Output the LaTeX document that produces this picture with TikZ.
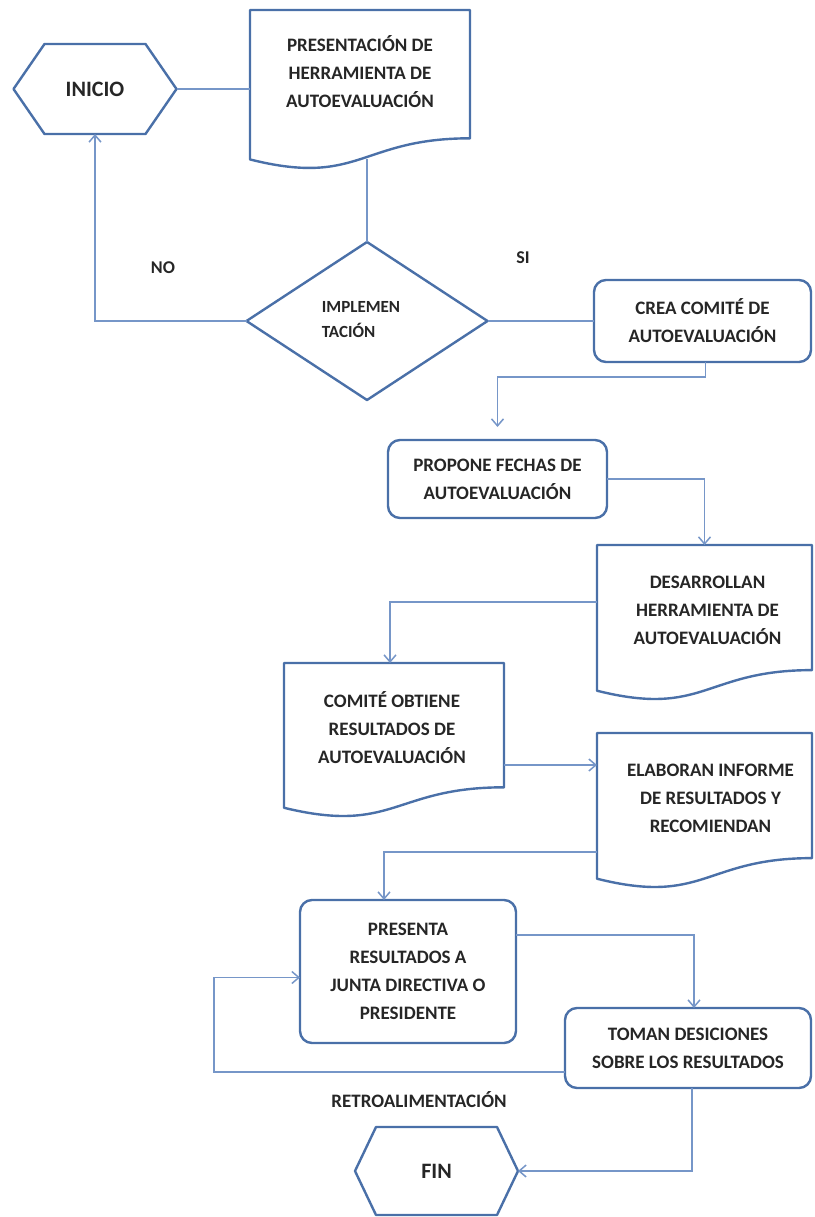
\documentclass[tikz,border=0pt]{standalone}
\usepackage{fontspec}
\setmainfont{Carlito}
\usetikzlibrary{calc,arrows.meta}
\definecolor{shapeblue}{RGB}{74,112,168}
\definecolor{lineblue}{RGB}{118,150,200}
\definecolor{txtc}{RGB}{38,38,38}
\tikzset{
  frame/.style={draw=none, inner sep=0pt, outer sep=0pt},
  shapeline/.style={draw=shapeblue, line width=2.4pt, line join=round, fill=white},
  rbox/.style={shapeline, rounded corners=12pt, inner sep=0pt, outer sep=0pt, align=center,
    font=\bfseries\fontsize{19}{28}\selectfont, text=txtc},
  conn/.style={draw=lineblue, line width=1.5pt},
  arr/.style={-{Straight Barb[length=7pt,width=12pt,line width=1.5pt]}},
  txt/.style={align=center, font=\bfseries\fontsize{19}{28}\selectfont, text=txtc, inner sep=0pt},
  bigtxt/.style={txt, font=\bfseries\fontsize{22}{26}\selectfont},
}
\newcommand\docpath[1]{%
  \path[shapeline] (#1.north west) -- (#1.north east) -- ($(#1.north east)!0.802!(#1.south east)$)
    .. controls ($(#1.north)!0.802!(#1.south)$) and ($(#1.north)!1.107!(#1.south)$) ..
    ($(#1.north west)!0.934!(#1.south west)$) -- cycle;}
\newcommand\hexpath[2]{%
  \path[shapeline] (#1.west) -- ([xshift=#2]#1.north west) -- ([xshift=-#2]#1.north east) -- (#1.east)
    -- ([xshift=-#2]#1.south east) -- ([xshift=#2]#1.south west) -- cycle;}
\begin{document}
\begin{tikzpicture}[x=1pt,y=-1pt]
\useasboundingbox (0,0) rectangle (814,1217);
% frames
\node[frame, minimum width=163pt, minimum height=90pt] (inicio) at (95,89) {};
\node[frame, minimum width=220pt, minimum height=160pt] (d1) at (360,90) {};
\node[frame, minimum width=241pt, minimum height=158pt] (dia) at (367,321) {};
\node[frame, minimum width=215pt, minimum height=156pt] (des) at (704.5,623) {};
\node[frame, minimum width=220pt, minimum height=155pt] (comite) at (394,740.5) {};
\node[frame, minimum width=215pt, minimum height=156pt] (elab) at (704.5,811) {};
\node[frame, minimum width=163pt, minimum height=88pt] (fin) at (436.5,1171) {};
% outlines
\hexpath{inicio}{31pt}
\hexpath{fin}{21pt}
\docpath{d1}
\docpath{des}
\docpath{comite}
\docpath{elab}
\path[shapeline] (dia.north) -- (dia.east) -- (dia.south) -- (dia.west) -- cycle;
% rounded boxes
\node[rbox, minimum width=217pt, minimum height=82pt] (crea) at (702.5,321) {CREA COMITÉ DE\\AUTOEVALUACIÓN};
\node[rbox, minimum width=219pt, minimum height=78pt] (propone) at (497.5,479) {PROPONE FECHAS DE\\AUTOEVALUACIÓN};
\node[rbox, minimum width=216pt, minimum height=143pt] (presenta) at (408,971.5) {PRESENTA\\RESULTADOS A\\JUNTA DIRECTIVA O\\PRESIDENTE};
\node[rbox, minimum width=246pt, minimum height=80pt] (toman) at (688,1048) {TOMAN DESICIONES\\SOBRE LOS RESULTADOS};
% texts in shapes
\node[bigtxt] (iniciot) at (inicio) {INICIO};
\node[bigtxt] (fint) at (fin) {FIN};
\node[txt] (d1t) at ($(d1)+(0,-18)$) {PRESENTACIÓN DE\\HERRAMIENTA DE\\AUTOEVALUACIÓN};
\node[txt, align=left, font=\bfseries\fontsize{17}{25}\selectfont] (diat) at ($(dia)+(-6,-1)$) {IMPLEMEN\\TACIÓN};
\node[txt] (dest) at ($(des)+(3,-13)$) {DESARROLLAN\\HERRAMIENTA DE\\AUTOEVALUACIÓN};
\node[txt] (comitet) at ($(comite)+(-2,-13)$) {COMITÉ OBTIENE\\RESULTADOS DE\\AUTOEVALUACIÓN};
\node[txt] (elabt) at ($(elab)+(6,-13)$) {ELABORAN INFORME\\DE RESULTADOS Y\\RECOMIENDAN};
% labels
\node[txt, font=\bfseries\fontsize{18}{22}\selectfont] (nolab) at (163,268) {NO};
\node[txt, font=\bfseries\fontsize{18}{22}\selectfont] (silab) at (523,258) {SI};
\node[txt] (retro) at (419,1100) {RETROALIMENTACIÓN};
% connectors
\coordinate (d1b) at ($(d1.north)!0.93!(d1.south)$);
\draw[conn] (inicio.east) -- (inicio.east -| d1.west);
\draw[conn] (d1b -| dia.north) -- (dia.north);
\draw[conn,arr] (dia.west) -| (inicio.south);
\draw[conn] (dia.east) -- (crea.west);
\draw[conn,arr,shorten >=13pt] ($(crea.south)+(3,0)$) -- ++(0,15) -| (propone.north);
\draw[conn,arr] (propone.east) -| (des.north);
\draw[conn,arr] ($(des.north west)+(0,57)$) -| ($(comite.north)+(-4,0)$);
\coordinate (c1) at ($(comite.north east)+(0,102)$);
\draw[conn,arr] (c1) -- (c1 -| elab.west);
\draw[conn,arr] ($(elab.north west)+(0,119)$) -| ($(presenta.north west)+(84,0)$);
\draw[conn,arr] ($(presenta.north east)+(0,35)$) -| ($(toman.north)+(6,0)$);
\draw[conn,arr] ($(toman.west)+(0,24)$) -- ++(-351,0) |- ($(presenta.west)+(0,6)$);
\draw[conn,arr] ($(toman.south)+(4,0)$) |- (fin.east);
\end{tikzpicture}
\end{document}
